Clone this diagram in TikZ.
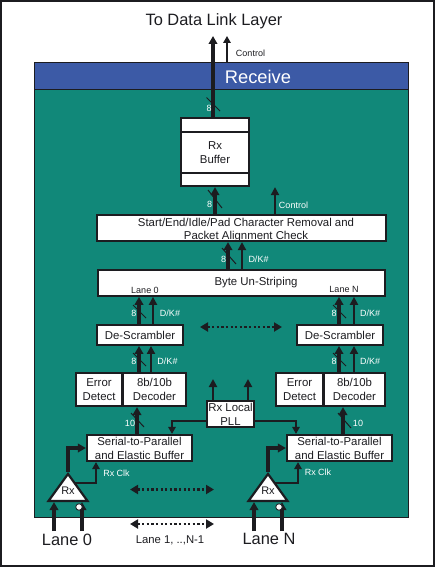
\documentclass[tikz,border=0pt]{standalone}
\usepackage{fontspec}
\setmainfont{Liberation Sans}
\usetikzlibrary{positioning,arrows.meta,shapes.geometric}
\definecolor{rxteal}{RGB}{17,136,121}
\definecolor{rxblue}{RGB}{60,90,166}
\definecolor{rxink}{RGB}{28,28,32}
\tikzset{
  every node/.style={text=rxink, inner sep=0pt},
  zone/.style={draw=rxink, line width=1pt, fill=#1},
  blk/.style={
    draw=rxink, line width=2.2pt, fill=white, align=center,
    font=\fontsize{11.4}{14}\selectfont
  },
  txt/.style={align=center, font=\fontsize{11.4}{13}\selectfont},
  tag/.style={text=white, font=\fontsize{9}{10}\selectfont},
  lane/.style={font=\fontsize{9}{10}\selectfont},
  amp/.style={
    draw=rxink, line width=2.2pt, fill=white, isosceles triangle,
    isosceles triangle apex angle=68, shape border rotate=90,
    isosceles triangle stretches, minimum width=39pt, minimum height=27pt,
    anchor=apex
  },
  bus/.style={-{Triangle[length=8pt,width=8.5pt]}, line width=3.2pt, draw=rxink},
  sig/.style={-{Triangle[length=8pt,width=8pt]}, line width=2.1pt, draw=rxink},
  ctl/.style={-{Triangle[length=7pt,width=7.5pt]}, line width=1.5pt, draw=rxink},
  many/.style={{Triangle[length=8pt,width=9pt]}-{Triangle[length=8pt,width=9pt]},
    line width=2.2pt, draw=rxink, dash pattern=on 2.2pt off 2.4pt},
  tick/.style={line width=1pt, draw=rxink}
}
\begin{document}
\begin{tikzpicture}[x=1pt,y=-1pt]
\useasboundingbox (0,0) rectangle (435,567);

\node[draw=rxink, line width=1.2pt, minimum width=433pt, minimum height=565pt] (frame) at (217.5,283.5) {};
\node[zone=rxteal, minimum width=374pt, minimum height=427pt] (body) at (221,303.5) {};
\node[zone=rxblue, minimum width=374pt, minimum height=27pt] (head) at (221,76.5) {};

\node[font=\fontsize{16.4}{18}\selectfont] (title) at (214,21) {To Data Link Layer};
\node[text=white, font=\fontsize{18.3}{20}\selectfont] (recv) at (258,77) {Receive};

% buffer stack
\node[blk, minimum width=68pt, minimum height=14pt] (rxtop) at (215,125) {};
\node[blk, minimum width=68pt, minimum height=41pt] (rxbuf) at (215,152.5) {Rx\\Buffer};
\node[blk, minimum width=68pt, minimum height=13pt] (rxbot) at (215,179.5) {};

\node[blk, minimum width=289pt, minimum height=26pt] (strip) at (241.5,228) {};
\node[txt] (striptxt) at (246,230) {Start/End/Idle/Pad Character Removal and\\Packet Alignment Check};
\node[blk, minimum width=287pt, minimum height=25.5pt] (unstripe) at (241.7,283) {};
\node[txt] (unstripetxt) at (256,283) {Byte Un-Striping};
\node[lane] (lanea) at (145,290) {Lane 0};
\node[lane] (laneb) at (344,289) {Lane N};

% lanes
\node[blk, minimum width=86.6pt, minimum height=19.7pt] (descl) at (140,335) {De-Scrambler};
\node[blk, minimum width=86.6pt, minimum height=19.7pt] (descr) at (340,335) {De-Scrambler};

\node[blk, minimum width=46.5pt, minimum height=33pt] (errl) at (99,389.5) {Error\\Detect};
\node[blk, minimum width=62.5pt, minimum height=33pt] (decl) at (154.5,389.5) {8b/10b\\Decoder};
\node[blk, minimum width=47.5pt, minimum height=33pt] (errr) at (299.5,389.5) {Error\\Detect};
\node[blk, minimum width=61pt, minimum height=33pt] (decr) at (354.5,389.5) {8b/10b\\Decoder};

\node[blk, minimum width=47pt, minimum height=26pt] (pll) at (230.5,414) {Rx Local\\PLL};

\node[blk, minimum width=105pt, minimum height=26pt] (serl) at (139.5,448) {Serial-to-Parallel\\and Elastic Buffer};
\node[blk, minimum width=105pt, minimum height=26pt] (serr) at (339.5,448) {Serial-to-Parallel\\and Elastic Buffer};

\node[amp] (ampl) at (68,472) {};
\node[amp] (ampr) at (268,472) {};
\node[font=\fontsize{11}{12}\selectfont] (ampltxt) at (68,491) {Rx};
\node[font=\fontsize{11}{12}\selectfont] (amprtxt) at (268,491) {Rx};

% free ends
\coordinate (upa) at (213,36);
\coordinate (upb) at (227,36);
\coordinate (pllupa) at (213,379);
\coordinate (pllupb) at (248,379);
\coordinate (inla) at (54,531);
\coordinate (inlb) at (82,531);
\coordinate (inra) at (254,531);
\coordinate (inrb) at (282,531);

% connectors
\draw[bus] ([xshift=-2pt]rxtop.north) -- (upa);
\draw[ctl] (upb |- head.north) -- (upb);
\draw[bus] (rxbot.south |- strip.north) -- (rxbot.south);
\draw[sig] ([xshift=33.5pt]strip.north) -- ([xshift=33.5pt]strip.north |- rxbot.south);
\draw[bus] ([xshift=-13.7pt]unstripe.north) -- ([xshift=-13.7pt]unstripe.north |- strip.south);
\draw[sig] ([xshift=0.3pt]unstripe.north) -- ([xshift=0.3pt]unstripe.north |- strip.south);
\draw[bus] ([xshift=-1pt]descl.north) -- ([xshift=-1pt]descl.north |- unstripe.south);
\draw[sig] ([xshift=13pt]descl.north) -- ([xshift=13pt]descl.north |- unstripe.south);
\draw[bus] ([xshift=-1pt]descr.north) -- ([xshift=-1pt]descr.north |- unstripe.south);
\draw[sig] ([xshift=14pt]descr.north) -- ([xshift=14pt]descr.north |- unstripe.south);
\draw[bus] ([xshift=-15.5pt]decl.north) -- ([xshift=-15.5pt]decl.north |- descl.south);
\draw[sig] ([xshift=-3.5pt]decl.north) -- ([xshift=-3.5pt]decl.north |- descl.south);
\draw[bus] ([xshift=-15.5pt]decr.north) -- ([xshift=-15.5pt]decr.north |- descr.south);
\draw[sig] ([xshift=-0.5pt]decr.north) -- ([xshift=-0.5pt]decr.north |- descr.south);
\draw[bus] ([xshift=-2.5pt]serl.north) -- ([xshift=-2.5pt]serl.north |- decl.south);
\draw[bus] ([xshift=3.5pt]serr.north) -- ([xshift=3.5pt]serr.north |- decr.south);
\draw[sig] ([xshift=-17.5pt]pll.north) -- (pllupa);
\draw[sig] ([xshift=17.5pt]pll.north) -- (pllupb);
\draw[ctl] ([yshift=-7pt]pll.west) -| ([xshift=32.5pt]serl.north);
\draw[ctl] ([yshift=-7pt]pll.east) -| ([xshift=-43.5pt]serr.north);
\draw[bus] (ampl.apex) |- (serl.west);
\draw[bus] (ampr.apex) |- (serr.west);
\draw[ctl] ([shift={(6,11)}]ampl.apex) -| ([xshift=-43.5pt]serl.south);
\draw[ctl] ([shift={(6,11)}]ampr.apex) -| ([xshift=-41.5pt]serr.south);
\draw[bus] (inla) -- (inla |- ampl.lower side);
\draw[bus] (inlb) -- (inlb |- ampl.lower side);
\draw[bus] (inra) -- (inra |- ampr.lower side);
\draw[bus] (inrb) -- (inrb |- ampr.lower side);
\node[circle, draw=rxink, line width=0.8pt, fill=white, minimum size=6.5pt] (invl) at (79,507) {};
\node[circle, draw=rxink, line width=0.8pt, fill=white, minimum size=6.5pt] (invr) at (279,507) {};

\draw[many] (200,327) -- (282,327);
\draw[many] (130,489.5) -- (214,489.5);
\draw[many] (130,524) -- (214,524);

% bus width marks
\draw[tick] (206.5,97.5) -- ++(13.5,13.5);
\draw[tick] (208,190) -- ++(14,18);
\draw[tick] (222,248) -- ++(14,16);
\draw[tick] (133,305) -- ++(13,13);
\draw[tick] (333,305) -- ++(13,13);
\draw[tick] (133,353) -- ++(13,13);
\draw[tick] (333,353) -- ++(13,13);
\draw[tick] (131,413) -- ++(13,14);
\draw[tick] (338,413) -- ++(13,15);

% labels
\node[lane] (ctlout) at (250.5,53) {Control};
\node[tag] (ctlin) at (293.5,205) {Control};
\node[tag] (wa) at (209,108.5) {8};
\node[tag] (wb) at (209.5,204.5) {8};
\node[tag] (wc) at (223.5,259) {8};
\node[tag] (wd) at (134,313.5) {8};
\node[tag] (we) at (334,313.5) {8};
\node[tag] (wf) at (134,361.5) {8};
\node[tag] (wg) at (334,361.5) {8};
\node[tag] (wh) at (130,423.5) {10};
\node[tag] (wi) at (358,423.5) {10};
\node[tag] (dka) at (258.5,259) {D/K\#};
\node[tag] (dkb) at (170,313.5) {D/K\#};
\node[tag] (dkc) at (370,313.5) {D/K\#};
\node[tag] (dkd) at (167.5,361.5) {D/K\#};
\node[tag] (dke) at (370,361.5) {D/K\#};
\node[tag] (clka) at (116.5,473) {Rx Clk};
\node[tag] (clkb) at (318,472) {Rx Clk};
\node[font=\fontsize{16.4}{18}\selectfont] (lanezero) at (67,540) {Lane 0};
\node[font=\fontsize{16.4}{18}\selectfont] (lanelast) at (269,539) {Lane N};
\node[font=\fontsize{11.3}{12}\selectfont] (lanemid) at (170,540) {Lane 1, ..,N-1};

\end{tikzpicture}
\end{document}
